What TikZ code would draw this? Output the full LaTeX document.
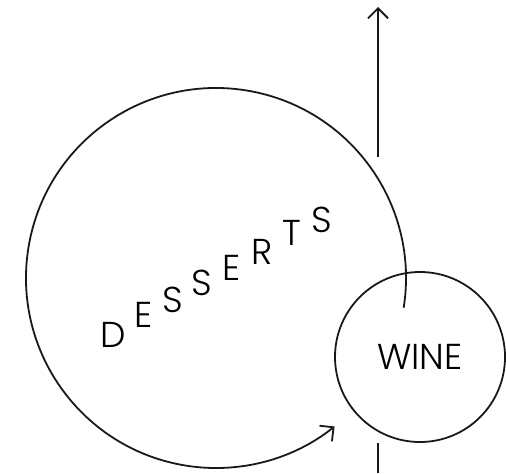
\documentclass[tikz,border=0pt]{standalone}
\usepackage{fontspec}
\setmainfont{Poppins Light}
\usetikzlibrary{arrows.meta,calc}

\begin{document}
\begin{tikzpicture}[
  x=0.5pt, y=0.5pt,
  font=\fontsize{18}{20}\selectfont,
  >={Straight Barb[length=5pt, width=10pt]},
  line/.style={draw=black!90, line width=0.9pt},
  ring/.style={circle, line, inner sep=0pt, minimum size=85pt},
  letter/.style={inner sep=0pt, anchor=center}
]
\useasboundingbox (0,0) rectangle (506,473);

% the big circle is only an arc round its centre
\coordinate (dc) at (216,195);
\node[ring] (wine) at (420,116) {WINE};

\foreach \ch/\px/\py [count=\i] in {D/113/138, E/144/158, S/173/173, S/202/190,
                                    E/232/205, R/262/221, T/292/240, S/322/253}
  \node[letter] (c\i) at (\px,\py) {\ch};

\draw[line, ->] ($(dc)+(-9:190)$) arc[start angle=-9, end angle=308.6, radius=190];

% the through line
\coordinate (up) at (378,466);
\coordinate (low) at (378,316);
\coordinate (foot) at (378,0);
\draw[line, ->] (low) -- (up);
\draw[line] (foot) -- (wine.south -| foot);
\end{tikzpicture}
\end{document}
